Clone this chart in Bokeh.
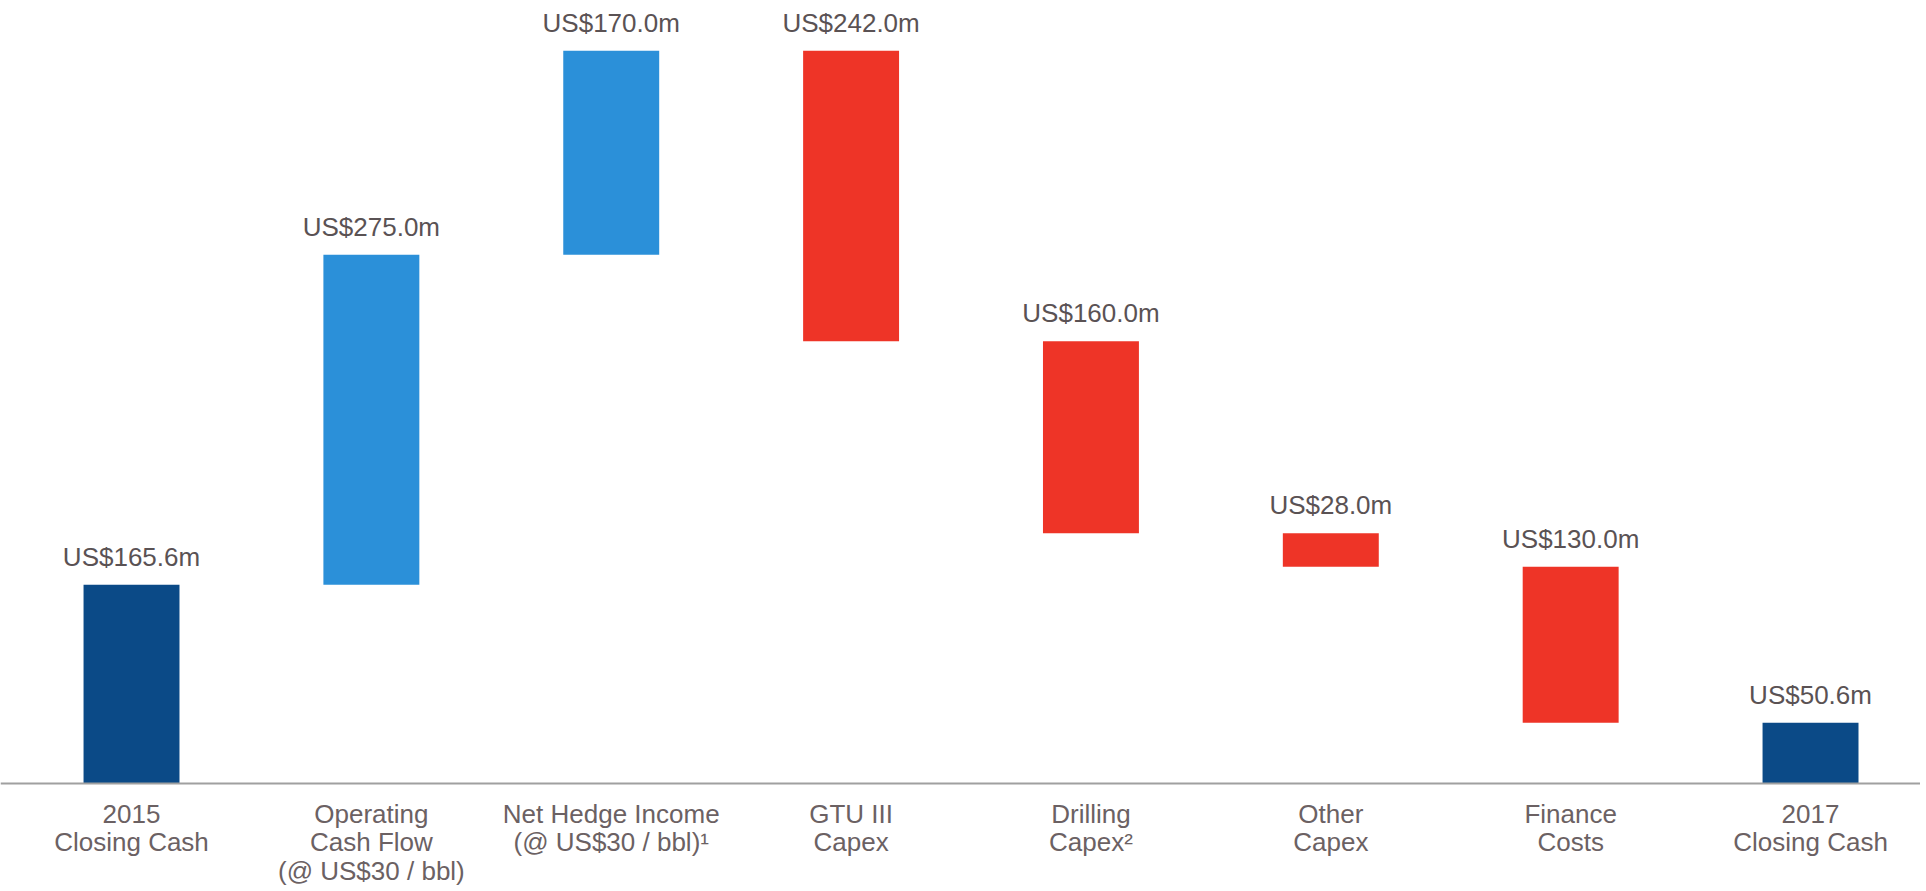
from bokeh.plotting import figure
from bokeh.models import ColumnDataSource, Range1d, Span
from bokeh.core.properties import value
from bokeh.embed import file_html
from bokeh.resources import INLINE

# ---- data ----
categories = [
    "2015\nClosing Cash",
    "Operating\nCash Flow\n(@ US$30 / bbl)",
    "Net Hedge Income\n(@ US$30 / bbl)\u00b9",
    "GTU III\nCapex",
    "Drilling\nCapex\u00b2",
    "Other\nCapex",
    "Finance\nCosts",
    "2017\nClosing Cash",
]
amounts = [165.6, 275.0, 170.0, -242.0, -160.0, -28.0, -130.0, 50.6]
kinds = ["total", "inc", "inc", "dec", "dec", "dec", "dec", "total"]
colors_by_kind = {"total": "#0B4A87", "inc": "#2B90D9", "dec": "#EE3427"}

# ---- waterfall geometry from the data ----
xs, bottoms, tops, cols, label_txt = [], [], [], [], []
running = 0.0
for i, (a, k) in enumerate(zip(amounts, kinds)):
    if k == "total":
        b, t = 0.0, a
        running = a
    else:
        start = running
        running = running + a
        b, t = min(start, running), max(start, running)
    xs.append(i)
    bottoms.append(b)
    tops.append(t)
    cols.append(colors_by_kind[k])
    label_txt.append("US${:.1f}m".format(abs(a)))

src = ColumnDataSource(dict(x=xs, bottom=bottoms, top=tops, color=cols,
                            txt=label_txt, cat=categories,
                            zero=[0.0] * len(xs)))

W, H = 1920, 891
p = figure(width=W, height=H, output_backend="svg", toolbar_location=None,
           x_range=Range1d(-0.5462, 7.4585), y_range=Range1d(-90.0, 652.5),
           min_border_left=0, min_border_right=0, min_border_top=0,
           min_border_bottom=0)

p.vbar(x="x", bottom="bottom", top="top", width=0.4, color="color",
       line_color=None, source=src)

# value labels above each bar
p.text(x="x", y="top", text="txt", source=src, text_align="center",
       text_baseline="alphabetic", y_offset=-28, text_font_size="26px",
       text_font=value("Liberation Sans"), text_color="#5A5254")

# category labels below the baseline
p.text(x="x", y="zero", text="cat", source=src, text_align="center",
       text_baseline="top", y_offset=15, text_font_size="26px",
       text_line_height=0.95,
       text_font=value("Liberation Sans"), text_color="#6B6163")

# baseline
p.add_layout(Span(location=0, dimension="width", line_color="#A0A0A0",
                  line_width=2))

p.xaxis.visible = False
p.yaxis.visible = False
p.xgrid.grid_line_color = None
p.ygrid.grid_line_color = None
p.outline_line_color = None
p.background_fill_color = "white"
p.border_fill_color = "white"

open("out.html", "w").write(file_html(p, INLINE))
